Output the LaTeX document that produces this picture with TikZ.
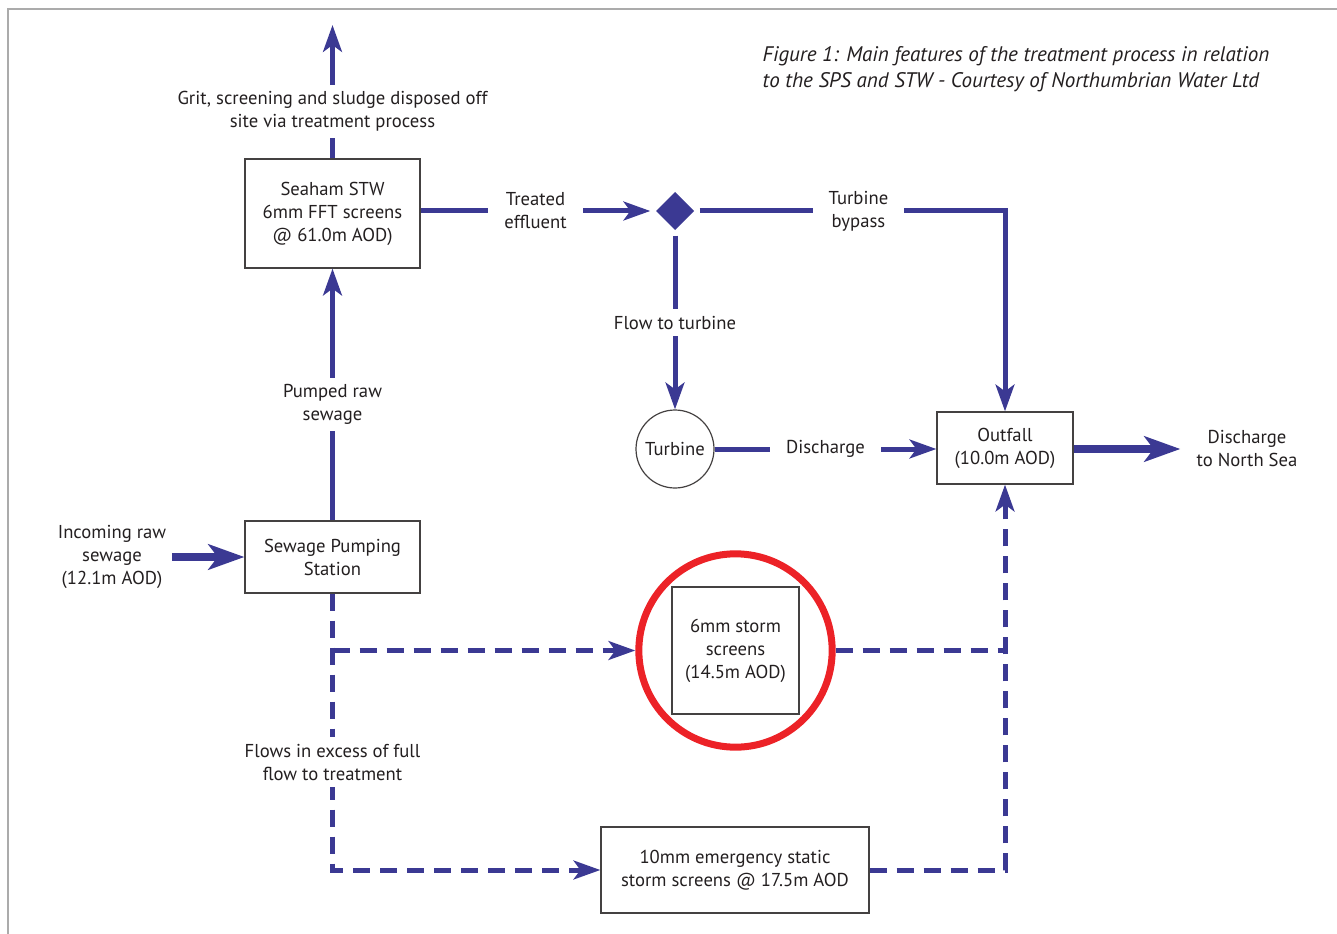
\documentclass[tikz,border=0pt]{standalone}
\usepackage{fontspec}
\setmainfont{PT Sans}
\usetikzlibrary{arrows.meta}
\usetikzlibrary{positioning}
\usetikzlibrary{shapes.geometric}

\definecolor{flowblue}{HTML}{3B3993}
\definecolor{ringred}{HTML}{EC2227}
\definecolor{inkgray}{HTML}{231F20}
\definecolor{framegray}{HTML}{ABABAB}

\tikzset{
	txt/.style={align=center, text=inkgray, font=\fontsize{14}{17.25}\selectfont},
	box/.style={txt, draw=inkgray!85, line width=0.9pt, inner sep=0pt},
	lbl/.style={txt, fill=white, inner xsep=12pt, inner ysep=5pt},
	flow/.style={draw=flowblue, line width=3.75pt, -{Stealth[length=20pt,width=14pt,inset=5pt]}},
	bigflow/.style={draw=flowblue, line width=6pt, -{Stealth[length=27pt,width=19pt,inset=7pt]}},
	dashline/.style={draw=flowblue, line width=3.75pt, dash pattern=on 12.75pt off 7.5pt},
	dashflow/.style={dashline, -{Stealth[length=20pt,width=14pt,inset=5pt]}}
}

\begin{document}
\begin{tikzpicture}[x=0.75pt, y=-0.75pt]
	\useasboundingbox (0,0) rectangle (1337,934);
	% frame
	\draw[framegray, line width=1.5pt] (8,934) -- (8,9) -- (1337,9);
	\node[anchor=west, align=left, text=inkgray, font=\fontsize{15.8}{19.5}\selectfont\itshape] (caption) at (758,69)
		{Figure 1: Main features of the treatment process in relation\\to the SPS and STW - Courtesy of Northumbrian Water Ltd};

	% boxes
	\node[box, minimum width=131.25pt, minimum height=81.75pt] (stw) at (332.5,213.5) {Seaham STW\\6mm FFT screens\\@ 61.0m AOD)};
	\node[box, minimum width=131.25pt, minimum height=54pt] (sps) at (332.5,557) {Sewage Pumping\\Station};
	\node[box, minimum width=95.25pt, minimum height=95.25pt] (storm) at (735.5,650.5) {6mm storm\\screens\\(14.5m AOD)};
	\node[circle, draw=ringred, line width=5.25pt, minimum size=145pt] (ring) at (735.5,650.5) {};
	\node[box, minimum width=102pt, minimum height=54pt] (outfall) at (1005,448) {Outfall\\(10.0m AOD)};
	\node[box, minimum width=201pt, minimum height=64.5pt] (emerg) at (735,870) {10mm emergency static\\storm screens @ 17.5m AOD};
	\node[box, circle, minimum size=58.5pt] (turb) at (675,449) {Turbine};
	\node[diamond, fill=flowblue, minimum width=31pt, minimum height=31pt, inner sep=0pt, outer sep=3pt] (split) at (675,211) {};

	% free ends
	\node[txt, inner xsep=4pt] (incoming) at (112,557) {Incoming raw\\sewage\\(12.1m AOD)};
	\node[txt, inner xsep=12pt] (sea) at (1247,449) {Discharge\\to North Sea};
	\coordinate (offsite) at (332.5,25);

	% flows
	\draw[flow] (stw.north) -- node[lbl, pos=0.35] {Grit, screening and sludge disposed off\\site via treatment process} (offsite);
	\draw[flow] (sps.north) -- node[lbl, pos=0.46] {Pumped raw\\sewage} (stw.south);
	\draw[bigflow] (incoming.east) -- (sps.west);
	\draw[flow] (stw.east |- split.west) -- node[lbl] {Treated\\effluent} (split.west);
	\draw[flow] (split.east) -| node[lbl, pos=0.26] {Turbine\\bypass} (outfall.north);
	\draw[flow] (split.south) -- node[lbl] {Flow to turbine} (turb.north);
	\draw[flow] (turb.east) -- node[lbl] {Discharge} (outfall.west |- turb.east);
	\draw[bigflow] (outfall.east |- sea.west) -- (sea.west);

	% storm overflows
	\draw[dashflow] (sps.south) |- node[lbl, pos=0.305] {Flows in excess of full\\flow to treatment} (emerg.west);
	\draw[dashflow] (sps.south |- ring.west) -- (ring.west);
	\draw[dashline] (ring.east) -- (ring.east -| outfall.south);
	\draw[dashflow] (emerg.east) -| (outfall.south);
\end{tikzpicture}
\end{document}
